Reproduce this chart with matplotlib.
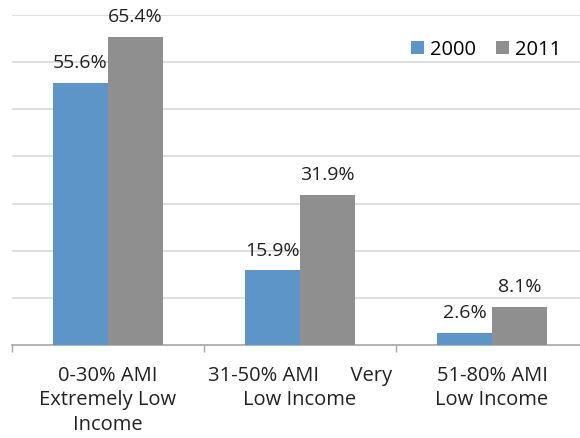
import numpy as np
import matplotlib
matplotlib.use('Agg')
import matplotlib.pyplot as plt

# data
categories = ['0-30% AMI\nExtremely Low\nIncome', '31-50% AMI      Very\nLow Income', '51-80% AMI\nLow Income']
vals_2000 = [55.6, 15.9, 2.6]
vals_2011 = [65.4, 31.9, 8.1]
series_names = ['2000', '2011']

plt.rcParams['font.family'] = ['Open Sans', 'DejaVu Sans']

fig = plt.figure(figsize=(5.8, 4.38), dpi=100)
ax = fig.add_axes([12/580, 1 - 345/438, 576/580, 330/438])

x = np.arange(len(categories))
w = 0.286
b1 = ax.bar(x - w/2, vals_2000, w, color='#5e95c9', label=series_names[0], zorder=3)
b2 = ax.bar(x + w/2, vals_2011, w, color='#8f8f8f', label=series_names[1], zorder=3)

for bars in (b1, b2):
    for r in bars:
        ax.annotate('%.1f%%' % r.get_height(), (r.get_x() + r.get_width()/2, r.get_height()),
                    xytext=(0, 7.5), textcoords='offset points', ha='center', va='bottom',
                    fontsize=14, color='#222222')

ax.set_xlim(-0.5, 2.5)
ax.set_ylim(0, 70)
ax.set_yticks(np.arange(10, 71, 10))
ax.yaxis.grid(True, color='#d9d9d9', linewidth=1.2, zorder=0)
ax.tick_params(axis='y', left=False, labelleft=False)

ax.set_xticks([-0.5, 0.5, 1.5, 2.5], minor=False)
ax.set_xticklabels([])
ax.tick_params(axis='x', which='major', length=5, color='#a6a6a6', width=1)
ax.set_xticks(x, minor=True)
ax.set_xticklabels(categories, minor=True, fontsize=14.5, color='#222222', linespacing=1.3)
ax.tick_params(axis='x', which='minor', length=0, pad=15)

for s in ['top', 'right', 'left']:
    ax.spines[s].set_visible(False)
ax.spines['bottom'].set_color('#a6a6a6')
ax.spines['bottom'].set_linewidth(1.2)

ax.legend(loc='upper right', bbox_to_anchor=(0.985, 0.98), ncol=2, frameon=False, fontsize=14.5,
          handlelength=0.65, handleheight=0.65, handletextpad=0.3, columnspacing=1.0)

fig.savefig('out.png', dpi=100)
